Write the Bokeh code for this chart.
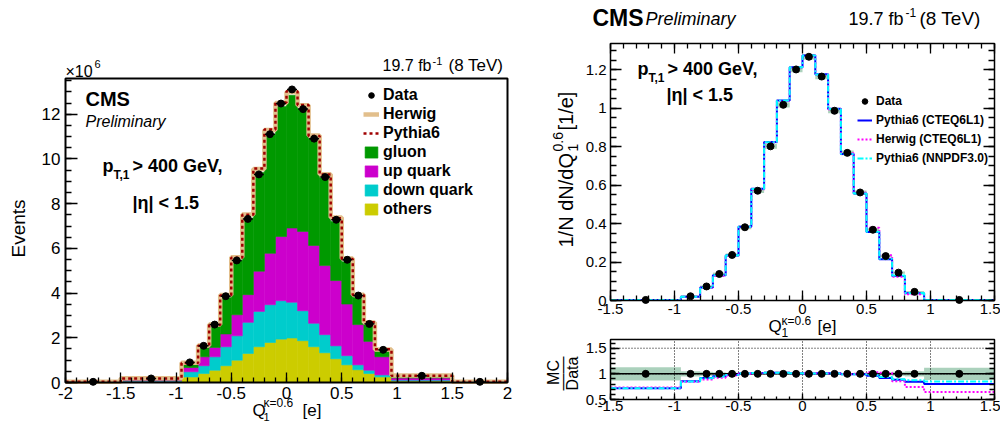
import numpy as np
from math import pi
from bokeh.plotting import figure
from bokeh.models import (Label, Legend, LegendItem, FixedTicker, LinearAxis,
                          Range1d, CustomJSTickFormatter)
from bokeh.embed import file_html
from bokeh.resources import INLINE

FONT = "Liberation Sans"

# ---------------- Left panel: event counts (units of 1e6) ----------------
edges_left = [-2.0, -1.5, -0.95, -0.8, -0.7, -0.6, -0.5, -0.4, -0.3, -0.2, -0.1, 0.0,
              0.1, 0.2, 0.3, 0.4, 0.5, 0.6, 0.7, 0.8, 0.95, 1.5, 2.0]
data_left = [0.03, 0.18, 0.90, 1.64, 2.59, 3.86, 5.46, 7.32, 9.31, 11.11, 12.48, 13.11,
             12.23, 10.91, 9.19, 7.28, 5.49, 3.89, 2.62, 1.46, 0.30, 0.03]
herwig_left = [0.03, 0.19, 0.88, 1.66, 2.60, 3.92, 5.60, 7.52, 9.55, 11.30, 12.50, 13.00,
               12.40, 11.05, 9.32, 7.38, 5.55, 3.93, 2.68, 1.48, 0.31, 0.03]
pythia_left = [0.03, 0.18, 0.87, 1.64, 2.57, 3.89, 5.58, 7.51, 9.57, 11.32, 12.53, 13.03,
               12.41, 11.03, 9.30, 7.35, 5.53, 3.92, 2.69, 1.49, 0.30, 0.03]
others = [0.01, 0.04, 0.25, 0.40, 0.55, 0.75, 1.00, 1.30, 1.60, 1.79, 1.94, 1.99,
          1.87, 1.60, 1.33, 1.06, 0.79, 0.57, 0.40, 0.25, 0.07, 0.01]
down_quark = [0.005, 0.03, 0.23, 0.35, 0.60, 0.85, 1.09, 1.39, 1.58, 1.69, 1.72, 1.60,
              1.34, 1.05, 0.81, 0.58, 0.41, 0.22, 0.15, 0.09, 0.04, 0.005]
up_quark = [0.005, 0.04, 0.19, 0.40, 0.42, 0.57, 0.94, 1.24, 1.80, 2.30, 2.87, 3.32,
            3.55, 3.48, 3.09, 2.92, 2.31, 1.80, 1.29, 0.81, 0.09, 0.005]
gluon = [0.01, 0.06, 0.15, 0.43, 0.93, 1.63, 2.42, 3.42, 4.42, 5.32, 5.82, 5.94,
         5.49, 4.77, 3.92, 2.64, 1.89, 1.21, 0.74, 0.25, 0.08, 0.01]

# ---------------- Right panel: normalised distribution ----------------
edges_right = [-1.5, -0.95, -0.8, -0.7, -0.6, -0.5, -0.4, -0.3, -0.2, -0.1, 0.0,
               0.1, 0.2, 0.3, 0.4, 0.5, 0.6, 0.7, 0.8, 0.95, 1.5]
data_norm = [0.003, 0.022, 0.073, 0.138, 0.237, 0.381, 0.571, 0.802, 1.018, 1.202,
             1.268, 1.165, 0.987, 0.768, 0.562, 0.368, 0.231, 0.145, 0.045, 0.003]
unc_norm = [0.002, 0.004, 0.005, 0.007, 0.008, 0.010, 0.012, 0.013, 0.014, 0.015,
            0.015, 0.014, 0.013, 0.012, 0.010, 0.008, 0.007, 0.006, 0.004, 0.002]
pythia_cteq = [0.002, 0.019, 0.067, 0.132, 0.234, 0.384, 0.581, 0.824, 1.040, 1.214,
               1.275, 1.177, 0.997, 0.762, 0.556, 0.356, 0.215, 0.128, 0.038, 0.0025]
herwig_cteq = [0.002, 0.019, 0.065, 0.128, 0.231, 0.383, 0.578, 0.822, 1.038, 1.213,
               1.275, 1.176, 0.995, 0.766, 0.560, 0.378, 0.235, 0.124, 0.033, 0.002]
pythia_nnpdf = [0.002, 0.019, 0.067, 0.132, 0.234, 0.384, 0.580, 0.823, 1.040, 1.214,
                1.274, 1.176, 0.996, 0.762, 0.557, 0.358, 0.217, 0.130, 0.039, 0.0026]

# ---------------- Ratio panel (MC / Data) ----------------
ratio_data = [1.0, 1.0, 1.0, 1.0, 1.0, 1.0, 1.0, 1.0, 1.0, 1.0,
              1.0, 1.0, 1.0, 1.0, 1.0, 1.0, 1.0, 1.0, 1.0, 1.0]
ratio_unc = [0.13, 0.05, 0.04, 0.03, 0.02, 0.015, 0.01, 0.01, 0.01, 0.01,
             0.01, 0.01, 0.01, 0.01, 0.015, 0.02, 0.03, 0.04, 0.05, 0.12]
ratio_pythia_cteq = [0.72, 0.856, 0.921, 0.954, 0.98, 1.005, 1.015, 1.02, 1.02, 1.01,
                     1.005, 1.01, 1.01, 0.99, 0.99, 0.965, 0.92, 0.885, 0.845, 0.80]
ratio_herwig_cteq = [0.735, 0.845, 0.89, 0.925, 0.97, 1.0, 1.01, 1.02, 1.02, 1.01,
                     1.005, 1.01, 1.005, 0.995, 1.0, 1.03, 1.02, 0.855, 0.745, 0.645]
ratio_pythia_nnpdf = [0.72, 0.852, 0.915, 0.95, 0.978, 1.005, 1.015, 1.02, 1.02, 1.01,
                      1.005, 1.008, 1.008, 0.99, 0.99, 0.975, 0.94, 0.895, 0.875, 0.85]

# axis extents and ticks
X_LEFT = (-2.0, 2.0)
Y_LEFT = (0.0, 13.6)
X_RIGHT = (-1.5, 1.5)
Y_TOP = (0.0, 1.337)
Y_RATIO = (0.5, 1.67)
ticks_x_left = [-2, -1.5, -1, -0.5, 0, 0.5, 1, 1.5, 2]
ticks_y_left = [0, 2, 4, 6, 8, 10, 12]
ticks_x_right = [-1.5, -1, -0.5, 0, 0.5, 1, 1.5]
ticks_y_right = [0, 0.2, 0.4, 0.6, 0.8, 1, 1.2]
ticks_y_ratio = [0.5, 1, 1.5]
grid_x_ratio = [-1, -0.5, 0, 0.5, 1]
grid_y_ratio = [1, 1.5]

# ---------------- canvas / frame placement (pixels) ----------------
W, H = 1000, 424
BOX_L = dict(left=65, right=507, top=78, bottom=382)
BOX_R = dict(left=610, right=994, top=43, bottom=300)
BOX_B = dict(left=610, right=994, top=339, bottom=399)


def canvas_range(p_lo, v_lo, p_hi, v_hi, size):
    scale = (p_hi - p_lo) / (v_hi - v_lo)
    return Range1d(v_lo - p_lo / scale, v_lo + (size - p_lo) / scale)


def xrange_for(box, ext):
    return canvas_range(box["left"], ext[0], box["right"], ext[1], W)


def yrange_for(box, ext):
    return canvas_range(H - box["bottom"], ext[0], H - box["top"], ext[1], H)


def steps(edges, vals):
    xs, ys = [], []
    for i, v in enumerate(vals):
        xs += [edges[i], edges[i + 1]]
        ys += [v, v]
    return xs, ys


def centers(edges):
    e = np.asarray(edges, float)
    return (e[:-1] + e[1:]) / 2


def minor(lo, hi, step):
    n = int(round((hi - lo) / step))
    return [round(lo + i * step, 4) for i in range(n + 1)]


p = figure(width=W, height=H, x_range=xrange_for(BOX_L, X_LEFT),
           y_range=yrange_for(BOX_L, Y_LEFT), output_backend="svg",
           toolbar_location=None, title=None, x_axis_type=None, y_axis_type=None,
           min_border_left=0, min_border_right=0, min_border_top=0, min_border_bottom=0)
p.extra_x_ranges = {"xr": xrange_for(BOX_R, X_RIGHT)}
p.extra_y_ranges = {"yt": yrange_for(BOX_R, Y_TOP), "yb": yrange_for(BOX_B, Y_RATIO)}
p.outline_line_color = None
p.background_fill_color = "white"
p.border_fill_color = "white"

FMT = "return (Math.round(tick*1000)/1000).toString();"


def add_axis(side, ticks, minors, font_px, major_in, minor_in, standoff, fixed, bounds,
             xname="default", yname="default", show=True):
    ax = LinearAxis(x_range_name=xname, y_range_name=yname, fixed_location=fixed,
                    bounds=bounds)
    ax.ticker = FixedTicker(ticks=ticks, minor_ticks=minors)
    ax.formatter = CustomJSTickFormatter(code=FMT)
    ax.major_tick_in = major_in
    ax.major_tick_out = 0
    ax.minor_tick_in = minor_in
    ax.minor_tick_out = 0
    ax.major_tick_line_color = "black"
    ax.minor_tick_line_color = "black"
    ax.major_tick_line_width = 1.3
    ax.minor_tick_line_width = 1.3
    ax.axis_line_color = None
    ax.major_label_text_font = FONT
    ax.major_label_text_font_size = f"{font_px}px"
    ax.major_label_standoff = standoff
    ax.major_label_text_color = "black" if show else None
    p.add_layout(ax, side)
    return ax


def lab(X, Y, text, size, style="normal", align="left", angle=0):
    p.add_layout(Label(x=X, y=H - Y, x_units="screen", y_units="screen", text=text,
                       text_font=FONT, text_font_size=f"{size}px", text_font_style=style,
                       text_align=align, text_baseline="middle", angle=angle,
                       text_color="black"))


# =============================== LEFT ===============================
eL = np.asarray(edges_left)
o = np.asarray(others)
d = np.asarray(down_quark)
u = np.asarray(up_quark)
g = np.asarray(gluon)
c1 = o + d
c2 = c1 + u
c3 = c2 + g
stack_specs = [("others", np.zeros_like(o), o, "#cccc00"),
               ("down quark", o, c1, "#00cccc"),
               ("up quark", c1, c2, "#cc00cc"),
               ("gluon", c2, c3, "#009900")]
stack_r = {}
for name, bot, top, col in stack_specs:
    stack_r[name] = p.quad(left=eL[:-1], right=eL[1:], bottom=bot, top=top,
                           fill_color=col, line_color=col, line_width=0.6)

hx, hy = steps(edges_left, herwig_left)
r_herwig = p.line(hx, hy, line_color="#e2bf8c", line_width=4.5)
px_, py_ = steps(edges_left, pythia_left)
r_pythia = p.line(px_, py_, line_color="#a00000", line_width=2.5, line_dash="3 3")
cl = centers(edges_left)
p.segment(x0=cl - 0.045, x1=cl + 0.045, y0=data_left, y1=data_left,
          line_color="black", line_width=1.5)
r_data1 = p.scatter(cl, data_left, size=7, color="black")
p.quad(left=X_LEFT[0], right=X_LEFT[1], bottom=Y_LEFT[0], top=Y_LEFT[1],
       fill_color=None, line_color="black", line_width=2)

add_axis("below", ticks_x_left, minor(-2, 2, 0.1), 17, 10, 5, 4, Y_LEFT[0], X_LEFT)
add_axis("left", ticks_y_left, minor(0, 13.5, 0.5), 17, 12, 6, 5, X_LEFT[0], Y_LEFT)

leg1 = Legend(items=[LegendItem(label="Data", renderers=[r_data1]),
                     LegendItem(label="Herwig", renderers=[r_herwig]),
                     LegendItem(label="Pythia6", renderers=[r_pythia]),
                     LegendItem(label="gluon", renderers=[stack_r["gluon"]]),
                     LegendItem(label="up quark", renderers=[stack_r["up quark"]]),
                     LegendItem(label="down quark", renderers=[stack_r["down quark"]]),
                     LegendItem(label="others", renderers=[stack_r["others"]])],
              location=(363, 206), label_text_font=FONT, label_text_font_size="16px",
              label_text_font_style="bold", label_text_color="black",
              glyph_width=16, glyph_height=14, label_height=14, spacing=1,
              padding=0, margin=0, label_standoff=4, border_line_color=None,
              background_fill_alpha=0)
p.add_layout(leg1)

lab(85, 98, "CMS", 20, "bold")
lab(85, 121, "Preliminary", 16, "italic")
lab(102, 165, "p", 18, "bold")
lab(113, 174, "T,1", 12, "bold")
lab(132, 165, "> 400 GeV,", 18, "bold")
lab(132, 202, "|\u03b7| < 1.5", 18, "bold")
lab(65, 71, "\u00d710", 16)
lab(94, 63, "6", 11)
lab(431, 65, "19.7 fb", 16, align="right")
lab(432, 60, "-1", 11)
lab(448, 65, "(8 TeV)", 17)
lab(252, 410, "Q", 17)
lab(263, 402, "\u03ba=0.6", 12)
lab(263, 416, "1", 11)
lab(302, 410, "[e]", 17)
lab(18, 228, "Events", 19, align="center", angle=pi / 2)

# =============================== RIGHT TOP ===============================
eR = np.asarray(edges_right)
dn = np.asarray(data_norm)
un = np.asarray(unc_norm)
RT = dict(x_range_name="xr", y_range_name="yt")
p.quad(left=eR[:-1], right=eR[1:], bottom=dn - un, top=dn + un,
       fill_color="#2e8b57", fill_alpha=0.4, line_color=None, **RT)
bx, by = steps(edges_right, pythia_cteq)
r_pc = p.line(bx, by, line_color="#0000ff", line_width=2, **RT)
mx, my = steps(edges_right, herwig_cteq)
r_hc = p.line(mx, my, line_color="#ff00ff", line_width=2, line_dash="2 2", **RT)
nx, ny = steps(edges_right, pythia_nnpdf)
r_pn = p.line(nx, ny, line_color="#00ffff", line_width=2, line_dash="6 2 2 2", **RT)
cr = centers(edges_right)
r_data2 = p.scatter(cr, data_norm, size=7, color="black", **RT)
p.quad(left=X_RIGHT[0], right=X_RIGHT[1], bottom=Y_TOP[0], top=Y_TOP[1],
       fill_color=None, line_color="black", line_width=1.5, **RT)

xr_minor = minor(-1.5, 1.5, 0.1)
yt_minor = minor(0, 1.3, 0.05)
add_axis("below", ticks_x_right, xr_minor, 15, 10, 5, 3, Y_TOP[0], X_RIGHT, "xr", "yt")
add_axis("left", ticks_y_right, yt_minor, 15, 11, 6, 4, X_RIGHT[0], Y_TOP, "xr", "yt")
add_axis("right", ticks_y_right, yt_minor, 15, 11, 6, 0, X_RIGHT[1], Y_TOP, "xr", "yt",
         show=False)
add_axis("above", ticks_x_right, xr_minor, 15, 10, 5, 0, Y_TOP[1], X_RIGHT, "xr", "yt",
         show=False)

leg2 = Legend(items=[LegendItem(label="Data", renderers=[r_data2]),
                     LegendItem(label="Pythia6 (CTEQ6L1)", renderers=[r_pc]),
                     LegendItem(label="Herwig (CTEQ6L1)", renderers=[r_hc]),
                     LegendItem(label="Pythia6 (NNPDF3.0)", renderers=[r_pn])],
              location=(857, 259), label_text_font=FONT, label_text_font_size="12px",
              label_text_font_style="bold", label_text_color="black",
              glyph_width=15, glyph_height=14, label_height=14, spacing=5,
              padding=0, margin=0, label_standoff=4, border_line_color=None,
              background_fill_alpha=0)
p.add_layout(leg2)

lab(592, 17, "CMS", 23, "bold")
lab(645, 18, "Preliminary", 18, "italic")
lab(903, 18, "19.7 fb", 18, align="right")
lab(905, 12, "-1", 12)
lab(919, 18, "(8 TeV)", 19)
lab(637, 68, "p", 18, "bold")
lab(648, 77, "T,1", 12, "bold")
lab(667, 68, "> 400 GeV,", 18, "bold")
lab(666, 94, "|\u03b7| < 1.5", 18, "bold")
lab(768, 326, "Q", 17)
lab(781, 320, "\u03ba=0.6", 12)
lab(781, 332, "1", 12)
lab(817, 326, "[e]", 17)
lab(565, 247, "1/N dN/dQ", 20, angle=pi / 2)
lab(572, 151, "1", 14, angle=pi / 2)
lab(557, 151, "0.6", 14, angle=pi / 2)
lab(565, 130, "[1/e]", 20, angle=pi / 2)

# =============================== RATIO ===============================
RB = dict(x_range_name="xr", y_range_name="yb")
ru = np.asarray(ratio_unc)
p.quad(left=eR[:-1], right=eR[1:], bottom=1 - ru, top=1 + ru,
       fill_color="#2e8b57", fill_alpha=0.4, line_color=None, **RB)
p.segment(x0=grid_x_ratio, x1=grid_x_ratio, y0=Y_RATIO[0], y1=Y_RATIO[1],
          line_color="black", line_width=1, line_dash="1 2", **RB)
p.segment(x0=X_RIGHT[0], x1=X_RIGHT[1], y0=grid_y_ratio, y1=grid_y_ratio,
          line_color="black", line_width=1, line_dash="1 2", **RB)
p.line(x=list(X_RIGHT), y=[1, 1], line_color="black", line_width=1.5, **RB)
ax1, ay1 = steps(edges_right, ratio_pythia_cteq)
p.line(ax1, ay1, line_color="#0000ff", line_width=2, **RB)
ax2, ay2 = steps(edges_right, ratio_herwig_cteq)
p.line(ax2, ay2, line_color="#ff00ff", line_width=2, line_dash="2 2", **RB)
ax3, ay3 = steps(edges_right, ratio_pythia_nnpdf)
p.line(ax3, ay3, line_color="#00ffff", line_width=2, line_dash="6 2 2 2", **RB)
p.scatter(cr, ratio_data, size=7, color="black", **RB)
p.quad(left=X_RIGHT[0], right=X_RIGHT[1], bottom=Y_RATIO[0], top=Y_RATIO[1],
       fill_color=None, line_color="black", line_width=1.5, **RB)

yb_minor = minor(0.5, 1.6, 0.1)
add_axis("below", ticks_x_right, xr_minor, 15, 6, 3, 1, Y_RATIO[0], X_RIGHT, "xr", "yb")
add_axis("left", ticks_y_ratio, yb_minor, 15, 9, 5, 4, X_RIGHT[0], Y_RATIO, "xr", "yb")
add_axis("right", ticks_y_ratio, yb_minor, 15, 9, 5, 0, X_RIGHT[1], Y_RATIO, "xr", "yb",
         show=False)

lab(553, 372, "MC", 16, align="center", angle=pi / 2)
lab(562, 373, "\u2014\u2014", 17, align="center", angle=pi / 2)
lab(572, 373, "Data", 16, align="center", angle=pi / 2)

open("out.html", "w").write(file_html(p, INLINE))
